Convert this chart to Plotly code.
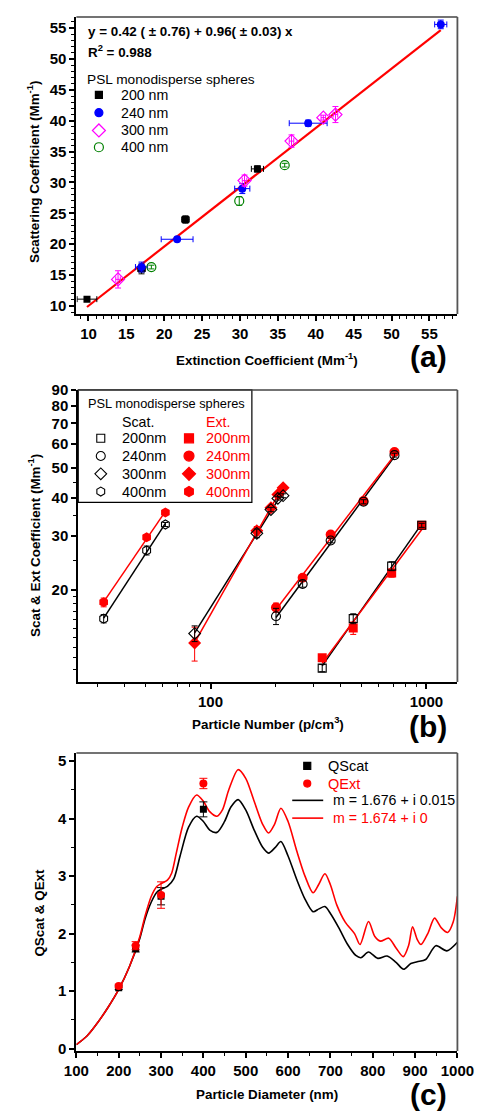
import numpy as np
import plotly.graph_objects as go

W, H = 488, 1119
OFF = 8  # page body margin offset compensation (pixels)
FONT = "Liberation Sans, Arial, sans-serif"

# ---------------- Panel (a) data ----------------
a200_x = [9.8, 17.0, 22.8, 32.3]
a200_y = [11.1, 16.0, 24.0, 32.2]
a200_xerr = [1.3, 0.5, 0.5, 0.8]
a200_yerr = [0.3, 0.8, 0.6, 0.5]

a240_x = [17.0, 21.7, 30.3, 39.0, 56.5]
a240_y = [16.3, 20.8, 29.0, 39.6, 55.6]
a240_xerr = [0.8, 2.1, 1.0, 2.5, 0.8]
a240_yerr = [0.8, 0.3, 0.8, 0.5, 0.7]

a300_x = [13.9, 30.6, 36.8, 41.0, 42.6]
a300_y = [14.3, 30.3, 36.7, 40.5, 41.0]
a300_xerr = [0.3, 0.3, 0.3, 0.3, 0.3]
a300_yerr = [1.4, 0.9, 1.0, 0.4, 1.3]

a400_x = [18.3, 29.9, 35.9]
a400_y = [16.3, 27.0, 32.8]
a400_yerr = [0.3, 0.7, 0.3]

fit_a_intercept = 0.42
fit_a_slope = 0.96

# ---------------- Panel (b) data ----------------
b400_n = [32, 50.6, 61.8]
b400_scat = [16.1, 26.9, 32.7]
b400_scat_err = [0.5, 0.9, 0.5]
b400_ext = [18.2, 29.7, 35.8]
b400_ext_err = [0.6, 0.6, 0.5]

b300_n = [84.4, 163.8, 190.4, 205, 216.8]
b300_scat = [14.4, 30.6, 36.6, 39.8, 40.6]
b300_scat_err = [0.85, 1.0, 0.6, 0.5, 0.6]
b300_ext = [13.4, 31.2, 37.1, 41.0, 43.1]
b300_ext_err = [1.7, 1.0, 0.6, 0.5, 0.5]

b240_n = [201, 267, 360, 511, 711]
b240_scat = [16.4, 20.9, 29.0, 38.8, 55.1]
b240_scat_err = [1.0, 0.5, 0.5, 0.6, 0.8]
b240_ext = [17.5, 21.9, 30.3, 39.0, 56.4]
b240_ext_err = [0.6, 0.4, 0.5, 0.6, 0.8]

b200_n = [329, 458, 690, 951]
b200_scat = [11.1, 16.1, 23.9, 32.5]
b200_scat_err = [0.3, 0.6, 0.8, 0.5]
b200_ext = [12.0, 15.0, 22.7, 32.5]
b200_ext_err = [0.2, 0.7, 0.7, 0.5]

# ---------------- Panel (c) data ----------------
c_diam = [200, 240, 300, 400]
c_qscat = [1.06, 1.74, 2.65, 4.16]
c_qscat_err = [0.03, 0.06, 0.15, 0.13]
c_qext = [1.09, 1.79, 2.67, 4.61]
c_qext_err = [0.03, 0.07, 0.23, 0.09]

mie_scat_d = [100, 125, 150, 175, 200, 225, 250, 262, 277, 290, 300, 315, 330, 345, 365,
              384, 400, 415, 432, 450, 465, 482, 500, 520, 540, 554, 570, 583, 600, 620,
              640, 659, 673, 687, 700, 720, 740, 760, 772, 790, 812, 834, 855, 873, 890,
              905, 925, 949, 975, 1000]
mie_scat_q = [0.07, 0.22, 0.45, 0.72, 1.03, 1.42, 1.92, 2.25, 2.55, 2.72, 2.77, 2.82, 2.95, 3.35, 3.85,
              4.04, 3.95, 3.80, 3.76, 3.95, 4.20, 4.33, 4.15, 3.80, 3.50, 3.40, 3.50, 3.60, 3.35, 2.95,
              2.60, 2.38, 2.43, 2.47, 2.35, 2.10, 1.82, 1.62, 1.58, 1.68, 1.57, 1.61, 1.50, 1.38, 1.48,
              1.51, 1.55, 1.79, 1.70, 1.85]

mie_ext_d = [100, 125, 150, 175, 200, 225, 250, 262, 277, 290, 300, 315, 325, 336, 350,
             365, 384, 400, 415, 432, 445, 460, 482, 500, 520, 540, 554, 568, 583, 600,
             620, 640, 659, 672, 687, 700, 715, 735, 757, 770, 790, 805, 818, 838, 855,
             872, 885, 894, 905, 914, 930, 946, 962, 977, 990, 1000]
mie_ext_q = [0.07, 0.22, 0.45, 0.72, 1.03, 1.42, 1.95, 2.30, 2.65, 2.82, 2.87, 2.93, 3.05, 3.40, 3.85,
             4.20, 4.41, 4.30, 4.12, 4.04, 4.15, 4.50, 4.85, 4.70, 4.30, 3.90, 3.75, 3.90, 4.18, 3.95,
             3.45, 3.00, 2.71, 2.85, 3.04, 2.85, 2.50, 2.20, 2.00, 1.81, 2.21, 1.95, 1.87, 1.92, 1.75,
             1.60, 1.80, 2.12, 1.90, 1.81, 2.00, 2.27, 2.10, 2.02, 2.20, 2.65]

# ---------------- layout geometry (pixels, in screenshot coordinates) ----------------
def px(x):
    return (x - OFF) / W

def py(y):
    return 1 - (y - OFF) / H

PANELS = {
    "a": dict(l=67, r=473, t=8, b=309),
    "b": dict(l=69, r=473, t=386, b=682),
    "c": dict(l=67, r=473, t=754, b=1056),
}

fig = go.Figure()

RED = "#ff0000"
BLUE = "#0000ff"
MAG = "#ff00ff"
GRN = "#008000"


def err(arr, color, width=3, thick=1):
    return dict(type="data", array=arr, visible=True, color=color, width=width, thickness=thick)

# ---- Panel (a) traces
xa = np.array([min(a200_x + a240_x + a300_x + a400_x), max(a200_x + a240_x + a300_x + a400_x)])
fig.add_trace(go.Scatter(x=xa, y=fit_a_intercept + fit_a_slope * xa, mode="lines",
                         line=dict(color=RED, width=2.2), xaxis="x", yaxis="y", showlegend=False))
fig.add_trace(go.Scatter(x=a200_x, y=a200_y, mode="markers", marker=dict(symbol="square", size=7, color="black"),
                         error_x=err(a200_xerr, "black"), error_y=err(a200_yerr, "black"),
                         xaxis="x", yaxis="y", showlegend=False))
fig.add_trace(go.Scatter(x=a240_x, y=a240_y, mode="markers", marker=dict(symbol="circle", size=8, color=BLUE),
                         error_x=err(a240_xerr, BLUE), error_y=err(a240_yerr, BLUE),
                         xaxis="x", yaxis="y", showlegend=False))
fig.add_trace(go.Scatter(x=a300_x, y=a300_y, mode="markers",
                         marker=dict(symbol="diamond-open", size=10, color=MAG, line=dict(width=1.2)),
                         error_x=err(a300_xerr, MAG), error_y=err(a300_yerr, MAG),
                         xaxis="x", yaxis="y", showlegend=False))
fig.add_trace(go.Scatter(x=a400_x, y=a400_y, mode="markers",
                         marker=dict(symbol="circle-open", size=9, color=GRN, line=dict(width=1.2)),
                         error_y=err(a400_yerr, GRN),
                         xaxis="x", yaxis="y", showlegend=False))

# ---- Panel (b) traces
def prop_fit(n, v):
    n = np.array(n, float)
    v = np.array(v, float)
    b, a = np.polyfit(np.log10(n), np.log10(v), 1)
    xs = np.logspace(np.log10(n.min()), np.log10(n.max()), 20)
    return xs, 10 ** (a + b * np.log10(xs))

groups_b = [
    (b400_n, b400_scat, b400_scat_err, b400_ext, b400_ext_err, "hexagon"),
    (b300_n, b300_scat, b300_scat_err, b300_ext, b300_ext_err, "diamond"),
    (b240_n, b240_scat, b240_scat_err, b240_ext, b240_ext_err, "circle"),
    (b200_n, b200_scat, b200_scat_err, b200_ext, b200_ext_err, "square"),
]
for n, sc, sce, ex, exe, sym in groups_b:
    xs, ys = prop_fit(n, sc)
    fig.add_trace(go.Scatter(x=xs, y=ys, mode="lines", line=dict(color="black", width=1.5),
                             xaxis="x2", yaxis="y2", showlegend=False))
    xs, ys = prop_fit(n, ex)
    fig.add_trace(go.Scatter(x=xs, y=ys, mode="lines", line=dict(color=RED, width=1.5),
                             xaxis="x2", yaxis="y2", showlegend=False))
for n, sc, sce, ex, exe, sym in groups_b:
    sz = 9 if sym != "square" else 8
    fig.add_trace(go.Scatter(x=n, y=ex, mode="markers", marker=dict(symbol=sym, size=sz + 1, color=RED),
                             error_y=err(exe, RED), xaxis="x2", yaxis="y2", showlegend=False))
    fig.add_trace(go.Scatter(x=n, y=sc, mode="markers",
                             marker=dict(symbol=sym + "-open", size=sz, color="black", line=dict(width=1.1)),
                             error_y=err(sce, "black"), xaxis="x2", yaxis="y2", showlegend=False))

# ---- Panel (c) traces
fig.add_trace(go.Scatter(x=mie_scat_d, y=mie_scat_q, mode="lines", line=dict(color="black", width=1.6, shape="spline", smoothing=0.8),
                         xaxis="x3", yaxis="y3", showlegend=False))
fig.add_trace(go.Scatter(x=mie_ext_d, y=mie_ext_q, mode="lines", line=dict(color=RED, width=1.6, shape="spline", smoothing=0.8),
                         xaxis="x3", yaxis="y3", showlegend=False))
fig.add_trace(go.Scatter(x=c_diam, y=c_qscat, mode="markers", marker=dict(symbol="square", size=7, color="black"),
                         error_y=err(c_qscat_err, "black", width=4), xaxis="x3", yaxis="y3", showlegend=False))
fig.add_trace(go.Scatter(x=c_diam, y=c_qext, mode="markers", marker=dict(symbol="circle", size=8, color=RED),
                         error_y=err(c_qext_err, RED, width=4), xaxis="x3", yaxis="y3", showlegend=False))

# ---- Legend keys (drawn on an invisible pixel-space overlay axis)
def key_marker(xp, yp, symbol, size, color, lw=1.2):
    fig.add_trace(go.Scatter(x=[xp], y=[yp], mode="markers",
                             marker=dict(symbol=symbol, size=size, color=color, line=dict(width=lw, color=color)),
                             xaxis="x4", yaxis="y4", showlegend=False, hoverinfo="skip"))

def key_line(x0, x1, yp, color):
    fig.add_trace(go.Scatter(x=[x0, x1], y=[yp, yp], mode="lines", line=dict(color=color, width=1.6),
                             xaxis="x4", yaxis="y4", showlegend=False, hoverinfo="skip"))

legend_a_rows = [87, 105, 123, 140]
legend_a_sym = [("square", 7, "black"), ("circle", 8, BLUE), ("diamond-open", 10, MAG), ("circle-open", 9, GRN)]
for yy, (s, z, c) in zip(legend_a_rows, legend_a_sym):
    key_marker(91, yy, s, z, c)

legend_b_rows = [435, 453, 471, 489]
for yy, s in zip(legend_b_rows, ["square", "circle", "diamond", "hexagon"]):
    key_marker(93, yy, s + "-open", 8 if s == "square" else 9, "black", 1.1)
    key_marker(187, yy, s, 9 if s == "square" else 10, RED)

key_marker(313, 767, "square", 7, "black")
key_marker(313, 785, "circle", 7, RED)
key_line(297, 330, 802, "black")
key_line(297, 330, 820, RED)

# ---------------- axes ----------------
def axis_common(**kw):
    d = dict(showline=True, linewidth=2, linecolor="black", ticks="outside", ticklen=5, tickwidth=1.5,
             tickcolor="black", showgrid=False, zeroline=False, ticklabeloverflow="allow",
             tickfont=dict(family=FONT, size=15, color="black", weight="bold"))
    d.update(kw)
    return d

pa, pb, pc = PANELS["a"], PANELS["b"], PANELS["c"]
layout = dict(
    width=W, height=H, margin=dict(l=0, r=0, t=0, b=0),
    paper_bgcolor="white", plot_bgcolor="rgba(0,0,0,0)", showlegend=False,
    font=dict(family=FONT, color="black"),
    xaxis=axis_common(domain=[px(pa["l"]), px(pa["r"])], anchor="y", range=[8.4, 58.7],
                      tickmode="linear", tick0=10, dtick=5,
                      minor=dict(dtick=1, ticks="outside", ticklen=3, tickwidth=1, tickcolor="black")),
    yaxis=axis_common(domain=[py(pa["b"]), py(pa["t"])], anchor="x", range=[8.7, 56.8],
                      tickmode="linear", tick0=10, dtick=5,
                      minor=dict(dtick=1, ticks="outside", ticklen=3, tickwidth=1, tickcolor="black")),
    xaxis2=axis_common(domain=[px(pb["l"]), px(pb["r"])], anchor="y2", type="log",
                       range=[np.log10(24.4), np.log10(1391)], tickmode="array", tickvals=[100, 1000],
                       ticktext=["100", "1000"],
                       minor=dict(tickmode="array", tickvals=[30, 40, 50, 60, 70, 80, 90, 200, 300, 400, 500, 600, 700, 800, 900],
                                  ticks="outside", ticklen=3, tickwidth=1, tickcolor="black")),
    yaxis2=axis_common(domain=[py(pb["b"]), py(pb["t"])], anchor="x2", type="log",
                       range=[1.0, np.log10(90)], tickmode="array",
                       tickvals=[20, 30, 40, 50, 60, 70, 80, 90],
                       ticktext=["20", "30", "40", "50", "60", "70", "80", "90"],
                       minor=dict(tickmode="array", tickvals=[11, 12, 13, 14, 15, 16, 17, 18, 19, 25, 35, 45],
                                  ticks="outside", ticklen=3, tickwidth=1, tickcolor="black")),
    xaxis3=axis_common(domain=[px(pc["l"]), px(pc["r"])], anchor="y3", range=[100, 1000],
                       tickmode="linear", tick0=100, dtick=100,
                       minor=dict(dtick=50, ticks="outside", ticklen=3, tickwidth=1, tickcolor="black")),
    yaxis3=axis_common(domain=[py(pc["b"]), py(pc["t"])], anchor="x3", range=[-0.04, 5.14],
                       tickmode="linear", tick0=0, dtick=1,
                       minor=dict(dtick=0.5, ticks="outside", ticklen=3, tickwidth=1, tickcolor="black")),
    xaxis4=dict(domain=[0, 1], range=[OFF, W + OFF], visible=False, anchor="y4", fixedrange=True),
    yaxis4=dict(domain=[0, 1], range=[H + OFF, OFF], visible=False, anchor="x4", fixedrange=True),
)
fig.update_layout(**layout)

# frame (top/right) lines
shapes = []
for p in PANELS.values():
    shapes.append(dict(type="line", xref="paper", yref="paper", x0=px(p["l"]), x1=px(p["r"]),
                       y0=py(p["t"]), y1=py(p["t"]), line=dict(color="#444", width=1.5)))
    shapes.append(dict(type="line", xref="paper", yref="paper", x0=px(p["r"]), x1=px(p["r"]),
                       y0=py(p["b"]), y1=py(p["t"]), line=dict(color="#555", width=1.8)))
# legend box in panel (b)
shapes.append(dict(type="rect", xref="paper", yref="paper", x0=px(69), x1=px(254), y0=py(500), y1=py(386),
                   line=dict(color="black", width=1.2), fillcolor="white", layer="below"))
fig.update_layout(shapes=shapes)

ann = []
def text(xp, yp, s, size=15, color="black", bold=False, xanchor="left", angle=0):
    ann.append(dict(x=px(xp), y=py(yp), xref="paper", yref="paper", text=s, showarrow=False,
                    xanchor=xanchor, yanchor="middle", textangle=angle,
                    font=dict(family=FONT, size=size, color=color, weight="bold" if bold else "normal")))

# panel (a) texts
text(77, 23, "y = 0.42 ( ± 0.76) + 0.96( ± 0.03) x", 13.4, bold=True)
text(77, 43, "R<sup>2</sup> = 0.988", 13.4, bold=True)
text(76, 71, "PSL monodisperse spheres", 13.7)
for yy, lab in zip(legend_a_rows, ["200 nm", "240 nm", "300 nm", "400 nm"]):
    text(112, yy, lab, 14.2)
text(270, 355, "Extinction Coefficient (Mm<sup>-1</sup>)", 13.4, bold=True, xanchor="center")
text(22, 165, "Scattering Coefficient (Mm<sup>-1</sup>)", 13.4, bold=True, xanchor="center", angle=-90)
text(442, 352, "(a)", 30, bold=True, xanchor="center")

# panel (b) texts
text(77, 400, "PSL monodisperse spheres", 12.8)
text(113, 418, "Scat.", 14.2)
text(203, 418, "Ext.", 14.2, color=RED)
for yy, lab in zip(legend_b_rows, ["200nm", "240nm", "300nm", "400nm"]):
    text(113, yy, lab, 14.5)
    text(203, yy, lab, 14.5, color=RED)
text(271, 724, "Particle Number (p/cm<sup>3</sup>)", 13.4, bold=True, xanchor="center")
text(23, 544, "Scat & Ext Coefficient (Mm<sup>-1</sup>)", 13.4, bold=True, xanchor="center", angle=-90)
text(442, 727, "(b)", 30, bold=True, xanchor="center")

# panel (c) texts
text(333, 767, "QScat", 14.5)
text(333, 785, "QExt", 14.5, color=RED)
text(338, 802, "m = 1.676 + i 0.015", 14.2)
text(338, 820, "m = 1.674 + i 0", 14.2, color=RED)
text(270, 1100, "Particle Diameter (nm)", 13.4, bold=True, xanchor="center")
text(28, 916, "QScat & QExt", 13.4, bold=True, xanchor="center", angle=-90)
text(442, 1100, "(c)", 30, bold=True, xanchor="center")

fig.update_layout(annotations=ann)
fig.write_html("out.html")
